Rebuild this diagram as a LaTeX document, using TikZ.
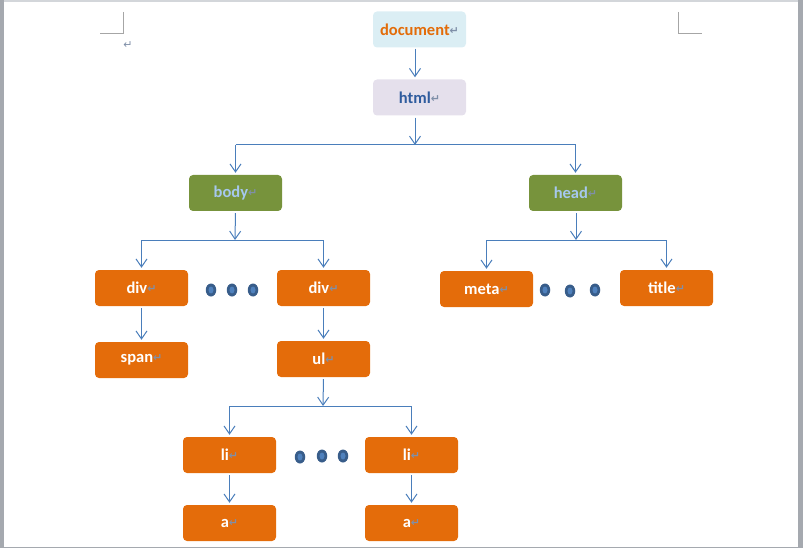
\documentclass[tikz,border=0pt]{standalone}
\usepackage{fontspec}
\setmainfont{Carlito}
\newfontfamily\symfont{DejaVu Sans}
\usetikzlibrary{arrows.meta,shapes.geometric}
\definecolor{orangebox}{HTML}{E46C0A}
\definecolor{greenbox}{HTML}{77933C}
\definecolor{docbox}{HTML}{DBEEF4}
\definecolor{htmlbox}{HTML}{E5E0EC}
\definecolor{linkblue}{HTML}{4A7EBB}
\definecolor{dotdark}{HTML}{385D8A}
\definecolor{dotlight}{HTML}{4F81BD}
\definecolor{docorange}{HTML}{E36C09}
\definecolor{htmlblue}{HTML}{2F5C9E}
\definecolor{lightbluetext}{HTML}{A6C8EE}
\definecolor{pmark}{HTML}{7F8FA8}
\definecolor{pageedge}{HTML}{A5A9AF}
\definecolor{pagetop}{HTML}{D3D6DA}
\definecolor{cornermark}{HTML}{A6A6A6}
\newcommand{\parmark}{{\symfont\fontsize{11}{11}\selectfont\color{pmark}\raisebox{1pt}{↵}}}
\tikzset{
  x=1pt,y=-1pt,
  treebox/.style={rectangle,rounded corners=4pt,minimum width=93pt,minimum height=36pt,inner sep=0pt,
    font=\fontsize{16.5}{16.5}\bfseries\selectfont},
  orangenode/.style={treebox,fill=orangebox,text=white},
  greennode/.style={treebox,fill=greenbox,text=lightbluetext},
  conn/.style={draw=linkblue,line width=1pt},
  arr/.style={conn,-{Straight Barb[length=8pt,width=11pt,line width=1pt]}},
  dotnode/.style={ellipse,fill=dotdark,minimum width=10.5pt,minimum height=13pt,inner sep=0pt,
    path picture={\fill[dotlight] (path picture bounding box.center) ellipse [x radius=2.5pt,y radius=3.5pt];}},
}
\begin{document}
\begin{tikzpicture}
\useasboundingbox (0,0) rectangle (803,548);
% page frame (screenshot of a page)
\fill[pagetop] (0,0) rectangle (803,2);
\fill[pageedge] (0,0) rectangle (3.5,548);
\fill[pageedge] (797.5,0) rectangle (803,548);
\fill[pageedge] (0,546.5) rectangle (803,548);
% corner marks
\draw[cornermark,line width=1pt] (123,12) -- (123,34) -- (100,34);
\draw[cornermark,line width=1pt] (678,12) -- (678,34) -- (702,34);
\node[inner sep=0pt] (pmtop) at (128,46) {\parmark};

% nodes
\node[treebox,fill=docbox,text=docorange] (document) at (419.5,29.5) {document\parmark};
\node[treebox,fill=htmlbox,text=htmlblue] (html) at (419.5,97.5) {html\parmark};
\node[greennode] (body) at (235.5,193) {body\parmark};
\node[greennode] (head) at (575.5,193) {head\parmark};
\node[orangenode] (div1) at (141.5,288) {div\parmark};
\node[orangenode] (div2) at (323.5,288) {div\parmark};
\node[orangenode] (meta) at (486.5,289) {meta\parmark};
\node[orangenode] (title) at (666.5,288) {title\parmark};
\node[orangenode] (span) at (141.5,360) {span\parmark};
\node[orangenode] (ul) at (323.5,359) {ul\parmark};
\node[orangenode] (li1) at (229.5,455) {li\parmark};
\node[orangenode] (li2) at (411.5,455) {li\parmark};
\node[orangenode] (a1) at (229.5,523) {a\parmark};
\node[orangenode] (a2) at (411.5,523) {a\parmark};

% dots
\node[dotnode] (d1) at (211,290) {};
\node[dotnode] (d2) at (232,290) {};
\node[dotnode] (d3) at (253,290) {};
\node[dotnode] (d4) at (545,290) {};
\node[dotnode] (d5) at (570,291) {};
\node[dotnode] (d6) at (595,290) {};
\node[dotnode] (d7) at (300,457) {};
\node[dotnode] (d8) at (322,456) {};
\node[dotnode] (d9) at (343,456) {};

% junction coordinates
\coordinate (j0) at (415,145);
\coordinate (j1) at (235,240);
\coordinate (j2) at (576,240);
\coordinate (j3) at (323,406);
\coordinate (cdoc) at (415,0);

% connectors
\draw[arr,shorten <=1pt,shorten >=2pt] (document.south -| cdoc) -- (html.north -| cdoc);
\draw[arr,shorten <=2pt] (html.south -| j0) -- (j0);
\draw[conn] (body.north |- j0) -- (head.north |- j0);
\draw[arr,shorten >=2pt] (body.north |- j0) -- (body.north);
\draw[arr,shorten >=2pt] (head.north |- j0) -- (head.north);

\draw[arr,shorten <=2pt] (body.south) -- (j1);
\draw[conn] (div1.north |- j1) -- (div2.north |- j1);
\draw[arr,shorten >=2pt] (div1.north |- j1) -- (div1.north);
\draw[arr,shorten >=2pt] (div2.north |- j1) -- (div2.north);

\draw[arr,shorten <=2pt] (head.south -| j2) -- (j2);
\draw[conn] (meta.north |- j2) -- (title.north |- j2);
\draw[arr,shorten >=2pt] (meta.north |- j2) -- (meta.north);
\draw[arr,shorten >=2pt] (title.north |- j2) -- (title.north);

\draw[arr,shorten <=2pt,shorten >=2pt] (div1.south) -- (span.north);
\draw[arr,shorten <=2pt,shorten >=2pt] (div2.south) -- (ul.north);

\draw[arr,shorten <=2pt] (ul.south) -- (j3);
\draw[conn] (li1.north |- j3) -- (li2.north |- j3);
\draw[arr,shorten >=2pt] (li1.north |- j3) -- (li1.north);
\draw[arr,shorten >=2pt] (li2.north |- j3) -- (li2.north);

\draw[arr,shorten <=2pt,shorten >=2pt] (li1.south) -- (a1.north);
\draw[arr,shorten <=2pt,shorten >=2pt] (li2.south) -- (a2.north);
\end{tikzpicture}
\end{document}
